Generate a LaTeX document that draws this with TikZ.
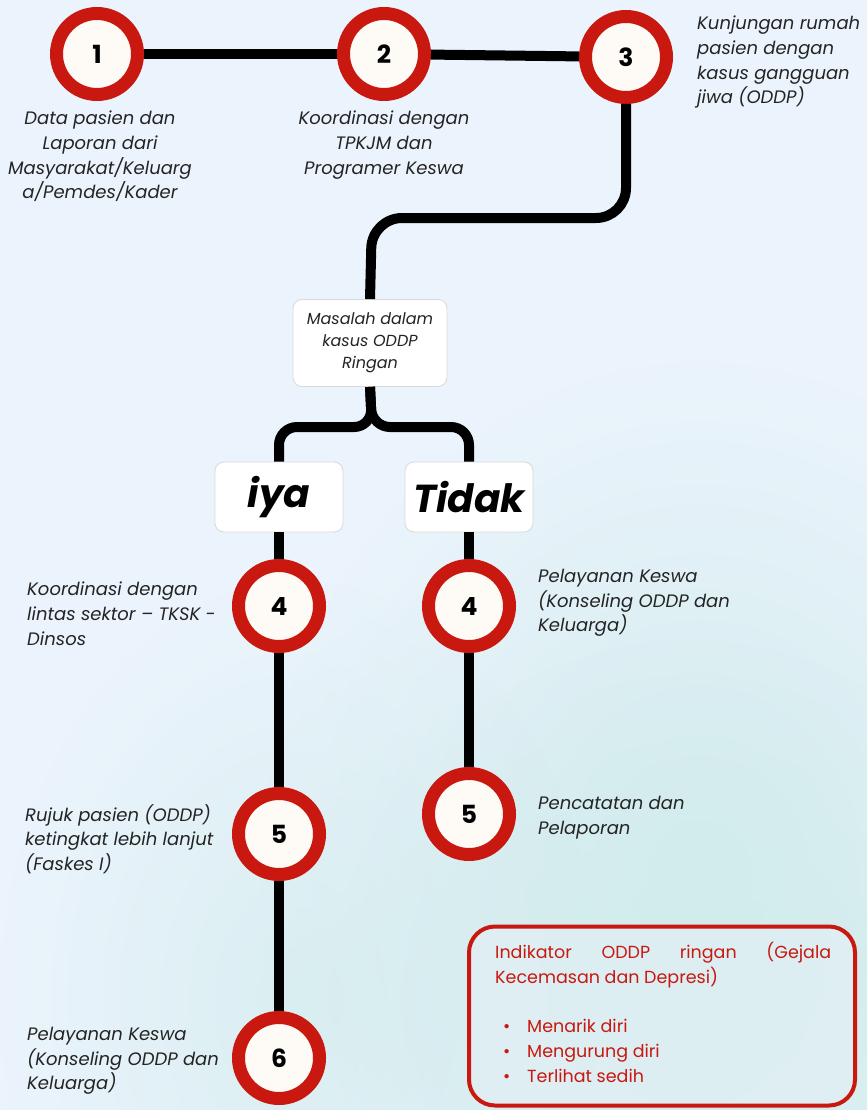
\documentclass[tikz,border=0pt]{standalone}
\usepackage{fontspec}
\setmainfont{Poppins}
\usepackage{tikz}
\usetikzlibrary{positioning,fadings}

\definecolor{bgblue}{RGB}{235,244,252}
\definecolor{wash}{RGB}{210,236,237}
\definecolor{ringred}{RGB}{200,24,16}
\definecolor{cream}{RGB}{254,250,246}
\definecolor{inktext}{RGB}{36,36,36}
\definecolor{boxfill}{RGB}{223,239,243}
\tikzfading[name=softblob,inner color=transparent!0,outer color=transparent!100]

\begin{document}
\begin{tikzpicture}[x=1pt,y=-1pt,
  numcircle/.style={circle,draw=ringred,line width=13pt,fill=cream,minimum size=81pt,inner sep=0pt,
    font=\fontsize{25}{25}\selectfont\bfseries},
  flowline/.style={line width=10pt,black},
  infotext/.style={inner sep=0pt,text=inktext,font=\fontsize{18}{24.7}\selectfont\itshape},
  choicebox/.style={rounded corners=9pt,fill=white,draw=black!15,line width=0.8pt,
    minimum width=128pt,minimum height=70pt,inner sep=0pt,font=\fontsize{39}{39}\selectfont\bfseries\itshape}]
\useasboundingbox (0,0) rectangle (867,1110);
% background wash
\begin{scope}
\clip (0,0) rectangle (867,1110);
\fill[bgblue] (0,0) rectangle (867,1110);
\fill[wash,path fading=softblob] (700,880) ellipse (440 and 520);
\fill[wash,path fading=softblob] (690,1000) ellipse (360 and 360);
\fill[wash,path fading=softblob,opacity=0.7] (300,1000) ellipse (300 and 420);
\end{scope}

% top row
\node[numcircle] (c1) at (97,54) {1};
\node[numcircle] (c2) at (384,54) {2};
\node[numcircle] (c3) at (626,57) {3};
\node[infotext,align=center,anchor=north] (t1) at (100,111)
  {Data pasien dan\\Laporan dari\\Masyarakat/Keluarg\\a/Pemdes/Kader};
\node[infotext,align=center,anchor=north] (t2) at (384,111)
  {Koordinasi dengan\\TPKJM dan\\Programer Keswa};
\node[infotext,align=left,anchor=north west] (t3) at (697,16)
  {Kunjungan rumah\\pasien dengan\\kasus gangguan\\jiwa (ODDP)};

% decision
\node[rounded corners=9pt,fill=white,draw=black!15,line width=0.8pt,minimum width=154pt,minimum height=87pt,
  inner sep=0pt,align=center,text=inktext,font=\fontsize{16}{22}\selectfont\itshape] (masalah) at (370,343)
  {Masalah dalam\\kasus ODDP\\Ringan};
\node[choicebox] (iya) at (279,497) {iya};
\node[choicebox] (tidak) at (469,497) {Tidak};
\coordinate (bend) at (372,218);
\coordinate (fork) at (372,427);

% left branch
\node[numcircle] (c4a) at (279,606) {4};
\node[numcircle] (c5a) at (279,834) {5};
\node[numcircle] (c6a) at (279,1058) {6};
\node[infotext,align=left,anchor=north west] (t4a) at (27,582)
  {Koordinasi dengan\\lintas sektor -- TKSK -\\Dinsos};
\node[infotext,align=left,anchor=north west] (t5a) at (25,804)
  {Rujuk pasien (ODDP)\\ketingkat lebih lanjut\\(Faskes I)};
\node[infotext,align=left,anchor=north west] (t6a) at (27,1027)
  {Pelayanan Keswa\\(Konseling ODDP dan\\Keluarga)};

% right branch
\node[numcircle] (c4b) at (469,606) {4};
\node[numcircle] (c5b) at (469,814) {5};
\node[infotext,align=left,anchor=north west] (t4b) at (538,569)
  {Pelayanan Keswa\\(Konseling ODDP dan\\Keluarga)};
\node[infotext,align=left,anchor=north west] (t5b) at (538,796)
  {Pencatatan dan\\Pelaporan};

% lines
\draw[flowline] (c1) -- (c2);
\draw[flowline] (c2) -- (c3);
\draw[flowline,rounded corners=30pt] (c3.south) |- (bend) -- (masalah.north);
\draw[flowline,rounded corners=18pt] (masalah.south) -- (fork) -| (iya.north);
\draw[flowline,rounded corners=18pt] (masalah.south) -- (fork) -| (tidak.north);
\draw[flowline] (iya) -- (c4a) -- (c5a) -- (c6a);
\draw[flowline] (tidak) -- (c4b) -- (c5b);

% indicator box
\node[draw=ringred,line width=4pt,rounded corners=26pt,fill=boxfill,fill opacity=0.9,
  minimum width=386pt,minimum height=179pt] (indbox) at (662,1016) {};
\node[inner sep=0pt,anchor=north west,align=left,text=ringred,font=\fontsize{17.5}{24.7}\selectfont] (indtext) at (495,942)
  {\makebox[336pt][s]{Indikator ODDP ringan (Gejala}\\Kecemasan dan Depresi)\\[24.7pt]
   \hspace*{8pt}\makebox[24pt][l]{\textbullet}Menarik diri\\
   \hspace*{8pt}\makebox[24pt][l]{\textbullet}Mengurung diri\\
   \hspace*{8pt}\makebox[24pt][l]{\textbullet}Terlihat sedih};
\end{tikzpicture}
\end{document}
